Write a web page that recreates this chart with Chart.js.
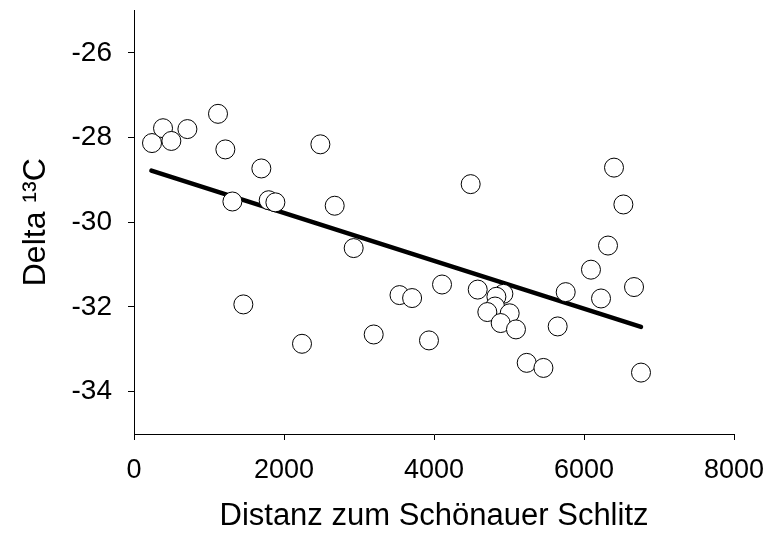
<!DOCTYPE html>
<html>
<head>
<meta charset="utf-8">
<script src="https://cdn.jsdelivr.net/npm/chart.js@4"></script>
<style>
  html, body { margin: 0; padding: 0; background: #fff; }
  #wrap { width: 768px; height: 535px; }
</style>
</head>
<body>
<div id="wrap"><canvas id="chart"></canvas></div>
<script>
/* ── data ────────────────────────────────────────────────── */

const distance = [
  240, 387, 498, 712, 1120, 1218, 1698, 2485, 1312, 1796, 1885, 2676,
  2929, 1458, 2240, 3196, 3540,
  4489, 6400, 6525, 6320, 6093, 6667, 6227, 5756, 5649, 5236, 5459, 6760,
  3933, 3708, 4107, 4583, 4925, 4832, 4814, 5009, 4711, 4889, 5093,
];
const delta13C = [
  -28.13, -27.78, -28.08, -27.80, -27.44, -28.28, -28.73, -28.16, -29.51, -29.48, -29.53, -29.61,
  -30.61, -31.94, -32.87, -32.65, -31.72,
  -29.10, -28.71, -29.58, -30.55, -31.12, -31.53, -31.80, -31.65, -32.46, -33.32, -33.44, -33.55,
  -32.79, -31.79, -31.47, -31.59, -31.69, -31.76, -31.99, -32.15, -32.12, -32.38, -32.53,
];
const fitX = [232, 6760];
const fitY = [-28.78, -32.47];

const xTicks = [0, 2000, 4000, 6000, 8000];
const yTicks = [-34, -32, -30, -28, -26];

/* ── chart ───────────────────────────────────────────────── */

const FONT = "'Liberation Sans', Arial, sans-serif";

new Chart(document.getElementById("chart"), {
  type: "scatter",
  data: {
    datasets: [
      {
        label: "Delta 13C",
        data: distance.map((x, i) => ({ x, y: delta13C[i] })),
        pointRadius: 9.5,
        pointBackgroundColor: "#fff",
        pointBorderColor: "#000",
        pointBorderWidth: 1,
      },
      {
        type: "line",
        label: "fit",
        data: fitX.map((x, i) => ({ x, y: fitY[i] })),
        borderColor: "#000",
        borderWidth: 4.5,
        pointRadius: 0,
        fill: false,
        borderCapStyle: "round",
      },
    ],
  },
  options: {
    responsive: true,
    maintainAspectRatio: false,
    animation: false,
    layout: { padding: { top: 8, right: 34, left: 0, bottom: 0 } },
    plugins: { legend: { display: false }, tooltip: { enabled: false } },
    scales: {
      x: {
        type: "linear",
        min: 0, max: 8000,
        afterBuildTicks: axis => { axis.ticks = xTicks.map(v => ({ value: v })); },
        afterFit: axis => {
          axis.height = 101;
          axis.paddingLeft = 0; axis.paddingRight = 0;
        },
        grid: { drawOnChartArea: false, drawTicks: true, tickLength: 6, color: "#000" },
        border: { display: true, color: "#000", width: 1 },
        ticks: {
          color: "#000", padding: 14, maxRotation: 0,
          font: { family: FONT, size: 27 },
          callback: v => String(v),
        },
        title: {
          display: true,
          text: "Distanz zum Schönauer Schlitz",
          color: "#000",
          font: { family: FONT, size: 31 },
          padding: { top: 0, bottom: 0 },
        },
      },
      y: {
        type: "linear",
        min: -35, max: -25,
        afterBuildTicks: axis => { axis.ticks = yTicks.map(v => ({ value: v })); },
        afterFit: axis => {
          axis.width = 134;
          axis.paddingTop = 0; axis.paddingBottom = 0;
        },
        grid: { drawOnChartArea: false, drawTicks: true, tickLength: 6, color: "#000" },
        border: { display: true, color: "#000", width: 1 },
        ticks: {
          color: "#000", padding: 16,
          font: { family: FONT, size: 28 },
          callback: v => String(v),
        },
        title: {
          display: true,
          text: "Delta ¹³C",
          color: "#000",
          font: { family: FONT, size: 32 },
          padding: { top: 17, bottom: 0 },
        },
      },
    },
  },
});
</script>
</body>
</html>
